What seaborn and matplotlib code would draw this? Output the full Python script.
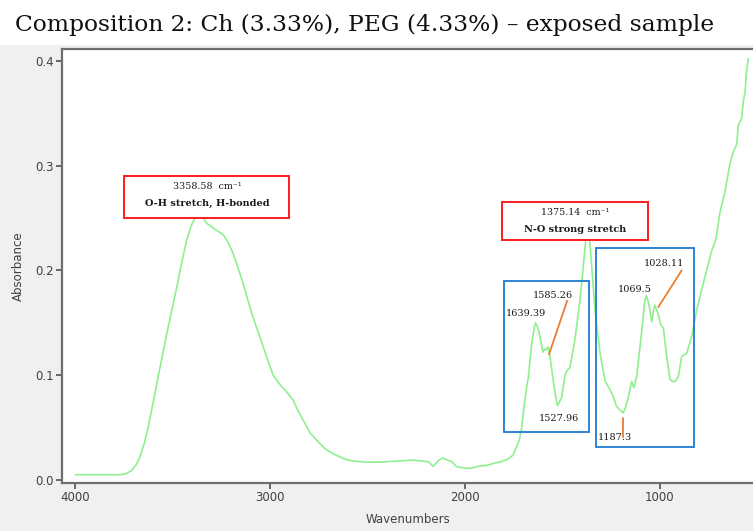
import matplotlib
matplotlib.use("Agg")
import matplotlib.pyplot as plt
from matplotlib.patches import Rectangle
import seaborn as sns
import pandas as pd

# ---- data ----
wavenumbers = [4000, 3850, 3772, 3740, 3712, 3690, 3669, 3645, 3626, 3600, 3575, 3550,
               3524, 3500, 3480, 3455, 3429, 3405, 3387, 3359, 3340, 3326, 3290, 3241,
               3215, 3190, 3140, 3095, 3060, 3036, 3010, 2985, 2950, 2920, 2899, 2882,
               2860, 2831, 2796, 2762, 2720, 2677, 2620, 2574, 2500, 2437, 2350, 2266,
               2220, 2189, 2163, 2140, 2115, 2090, 2069, 2045, 2026, 1975, 1930, 1889,
               1850, 1804, 1770, 1753, 1735, 1722, 1709, 1701, 1690, 1684, 1675, 1658,
               1645, 1638, 1628, 1619, 1601, 1593, 1585, 1573, 1564, 1547, 1535, 1526,
               1522, 1504, 1487, 1475, 1462, 1436, 1410, 1393, 1380, 1375, 1362, 1350,
               1333, 1307, 1282, 1256, 1240, 1222, 1200, 1188, 1175, 1162, 1145, 1133,
               1119, 1094, 1078, 1070, 1062, 1054, 1042, 1034, 1027, 1018, 1008, 996,
               982, 965, 948, 935, 922, 905, 888, 862, 837, 811, 785, 760, 735, 712,
               691, 666, 641, 624, 606, 597, 580, 572, 563, 555, 546]
absorbance = [0.005, 0.005, 0.005, 0.006, 0.009, 0.014, 0.022, 0.036, 0.051, 0.075, 0.099, 0.122,
              0.146, 0.167, 0.184, 0.207, 0.229, 0.243, 0.250, 0.253, 0.249, 0.245, 0.240, 0.234,
              0.226, 0.216, 0.188, 0.159, 0.140, 0.127, 0.113, 0.100, 0.091, 0.085, 0.080, 0.076,
              0.067, 0.057, 0.045, 0.038, 0.030, 0.025, 0.020, 0.018, 0.017, 0.017, 0.018, 0.019,
              0.018, 0.0175, 0.013, 0.018, 0.021, 0.019, 0.0175, 0.013, 0.012, 0.011, 0.013, 0.014,
              0.016, 0.018, 0.021, 0.024, 0.032, 0.038, 0.050, 0.064, 0.080, 0.089, 0.098, 0.130,
              0.145, 0.150, 0.146, 0.140, 0.122, 0.125, 0.124, 0.127, 0.118, 0.094, 0.080, 0.071,
              0.072, 0.079, 0.100, 0.105, 0.107, 0.134, 0.172, 0.204, 0.230, 0.233, 0.232, 0.204,
              0.162, 0.121, 0.095, 0.086, 0.080, 0.070, 0.066, 0.064, 0.070, 0.079, 0.094, 0.088,
              0.099, 0.140, 0.170, 0.176, 0.172, 0.165, 0.151, 0.160, 0.167, 0.163, 0.158, 0.148,
              0.145, 0.118, 0.096, 0.094, 0.094, 0.099, 0.118, 0.121, 0.137, 0.162, 0.182, 0.200, 0.218, 0.230,
              0.256, 0.275, 0.301, 0.313, 0.320, 0.339, 0.345, 0.361, 0.370, 0.390, 0.402]

x_ticks = [4000, 3000, 2000, 1000]
y_ticks = [0.0, 0.1, 0.2, 0.3, 0.4]
y_tick_labels = ["0.0", "0.1", "0.2", "0.3", "0.4"]

title_text = "Composition 2: Ch (3.33%), PEG (4.33%) – exposed sample"
red_labels = [("3358.58  cm⁻¹", "O-H stretch, H-bonded"),
              ("1375.14  cm⁻¹", "N-O strong stretch")]
peak_labels = ["1639.39", "1585.26", "1527.96", "1187.3", "1069.5", "1028.11"]

# ---- figure ----
sns.set_style("ticks")
plt.rcParams['font.family'] = ['DejaVu Sans']

W, H = 753, 531
fig = plt.figure(figsize=(W / 100, H / 100), dpi=100)
fig.patch.set_facecolor("white")
fig.add_artist(Rectangle((0, 0), 1, (H - 45) / H, transform=fig.transFigure,
                         facecolor="#f0f0f0", edgecolor="none", zorder=0))

ax = fig.add_axes([62 / W, (H - 483) / H, (W - 62) / W, (483 - 49) / H])
ax.set_facecolor("white")
ax.set_zorder(1)

df = pd.DataFrame({"Wavenumbers": wavenumbers, "Absorbance": absorbance})
sns.lineplot(data=df, x="Wavenumbers", y="Absorbance", ax=ax, color="#8ef08e",
             linewidth=1.2, sort=False)

ax.set_xlim(4069, 522)
ax.set_ylim(-0.0029, 0.4113)
ax.set_xticks(x_ticks)
ax.set_xticklabels([str(t) for t in x_ticks])
ax.set_yticks(y_ticks)
ax.set_yticklabels(y_tick_labels)

for s in ["left", "bottom", "top"]:
    ax.spines[s].set_color("#6e6e6e")
    ax.spines[s].set_linewidth(1.6)
ax.spines["right"].set_visible(False)
ax.tick_params(axis="both", colors="#505050", labelcolor="#404040", labelsize=8.5,
               length=4, width=1.2, direction="out", pad=2)

ax.set_xlabel("Wavenumbers", fontsize=8.5, color="#404040", labelpad=6)
ax.set_ylabel("Absorbance", fontsize=8.5, color="#404040", labelpad=7.5)

fig.text(15 / W, 1 - 25 / H, title_text, ha="left", va="center",
         family="DejaVu Serif", fontsize=16.8, color="#111111")

# ---- annotations ----
serif = "DejaVu Serif"
# red boxes
red_boxes = [(3751, 0.250, 2904, 0.290), (1811, 0.229, 1061, 0.265)]
red_text_pos = [(3325, 0.2796, 0.2640), (1436, 0.2548, 0.2395)]
for (x0, y0, x1, y1), (tx, ty1, ty2), (l1, l2) in zip(red_boxes, red_text_pos, red_labels):
    ax.add_patch(Rectangle((x1, y0), x0 - x1, y1 - y0, facecolor="white",
                           edgecolor="#ff1a1a", linewidth=1.4, zorder=3))
    ax.text(tx, ty1, l1, ha="center", va="center", family=serif, fontsize=6.8,
            color="#1a1a1a", zorder=4)
    ax.text(tx, ty2, l2, ha="center", va="center", family=serif, fontsize=7,
            fontweight="bold", color="#1a1a1a", zorder=4)

# blue boxes
blue_boxes = [(1800, 0.0458, 1364, 0.190), (1328, 0.0315, 825, 0.221)]
for x0, y0, x1, y1 in blue_boxes:
    ax.add_patch(Rectangle((x1, y0), x0 - x1, y1 - y0, facecolor="none",
                           edgecolor="#1f7bd0", linewidth=1.3, zorder=3))

peak_pos = [(1790, 0.159), (1651, 0.176), (1620, 0.059), (1318, 0.041),
            (1215, 0.182), (1081, 0.207)]
for lab, (px, py) in zip(peak_labels, peak_pos):
    ax.text(px, py, lab, ha="left", va="center", family=serif, fontsize=7,
            color="#1a1a1a", zorder=4)

orange_lines = [((1476, 0.171), (1569, 0.120)), ((1191, 0.059), (1191, 0.041)),
                ((888, 0.200), (1008, 0.165))]
for (xa, ya), (xb, yb) in orange_lines:
    ax.plot([xa, xb], [ya, yb], color="#ed7d31", linewidth=1.3, zorder=4)

fig.savefig("out.png", dpi=100, facecolor=fig.get_facecolor())
